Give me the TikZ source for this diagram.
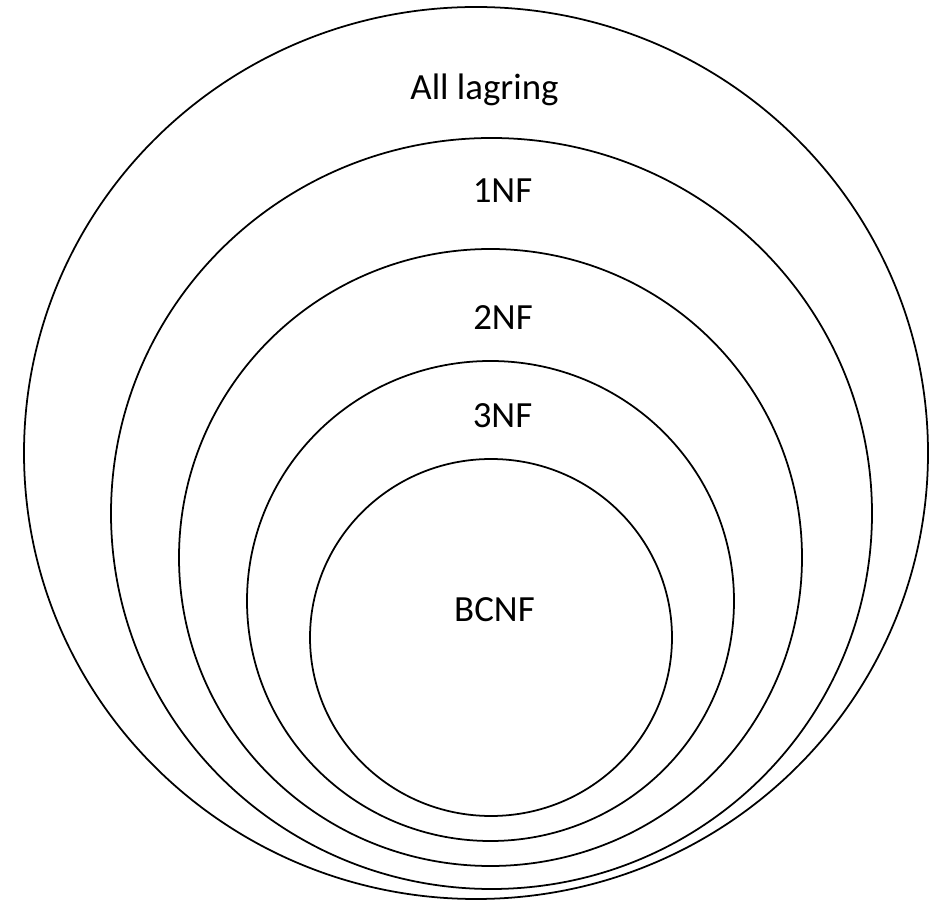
\documentclass[tikz,border=0pt]{standalone}
\usepackage{fontspec}
\setmainfont{Carlito}
\usepackage{tikz}

\begin{document}
\begin{tikzpicture}[x=0.02cm, y=-0.02cm, line width=1pt]
			\tikzset{nflabel/.style={anchor=base, inner sep=0pt, font=\fontsize{21}{25}\selectfont}}
			\pgfmathsetmacro{\cx}{491}
			\useasboundingbox (0,0) rectangle (937,901);
			\draw (476,453) ellipse [x radius=452, y radius=446];
			\draw (491.5,513.5) ellipse [x radius=380.5, y radius=375.5];
			\draw (490.5,557.5) ellipse [x radius=311.5, y radius=308.5];
			\draw (490.5,601) ellipse [x radius=243.5, y radius=240];
			\draw (\cx,637.5) ellipse [x radius=181, y radius=178.5];
			\node[nflabel] (all) at (484.5,100) {All lagring};
			\node[nflabel] (nf1) at (502.5,203) {1NF};
			\node[nflabel] (nf2) at (503,330) {2NF};
			\node[nflabel] (nf3) at (502.5,428) {3NF};
			\node[nflabel] (bcnf) at (494.5,622) {BCNF};
		\end{tikzpicture}
\end{document}
